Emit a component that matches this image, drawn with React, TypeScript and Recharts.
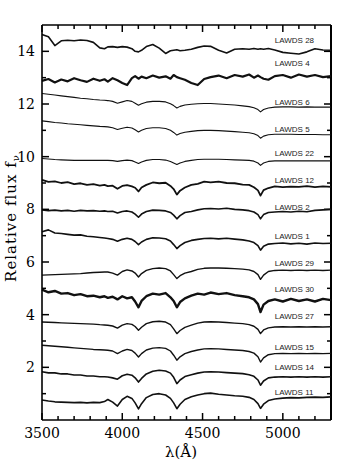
import React from 'react';
import { LineChart, Line, XAxis, YAxis, ReferenceDot, ReferenceLine } from 'recharts';

// wavelength grid (Angstrom), denser around the Balmer lines
const wavelengths = [
  3500, 3540, 3580, 3620, 3660, 3700, 3740, 3780, 3820, 3860,
  3889, 3910, 3940, 3970, 4000, 4030, 4060, 4080, 4101, 4120,
  4150, 4190, 4230, 4270, 4300, 4320, 4340, 4360, 4390, 4430,
  4470, 4510, 4550, 4600, 4650, 4700, 4750, 4790, 4820, 4845,
  4861, 4880, 4910, 4950, 5000, 5050, 5100, 5150, 5200, 5250, 5300,
];

// relative flux + offset (top to bottom)
const lawds28 = [
  14.64, 14.55, 14.22, 14.40, 14.42, 14.40, 14.43, 14.41, 14.34, 14.13,
  14.10, 14.17, 14.18, 14.15, 14.18, 14.16, 14.10, 14.00, 13.98, 14.04,
  14.18, 14.26, 14.12, 13.92, 14.02, 14.04, 14.06, 14.02, 14.04, 14.08,
  14.15, 14.20, 14.19, 14.04, 13.94, 14.08, 14.10, 14.08, 14.11, 14.08,
  14.10, 14.08, 14.11, 14.05, 13.96, 13.93, 13.90, 13.98, 14.10, 14.05, 14.04,
];
const lawds4 = [
  12.88, 12.95, 12.82, 12.93, 12.86, 12.98, 12.90, 12.84, 12.96, 12.88,
  12.94, 12.85, 12.98, 12.90, 12.80, 12.72, 12.98, 13.06, 12.96, 13.04,
  12.98, 13.08, 13.00, 13.05, 12.96, 13.10, 13.02, 12.98, 12.92, 12.80,
  12.72, 12.95, 13.02, 13.08, 12.98, 13.10, 13.04, 13.12, 13.00, 13.08,
  13.02, 12.96, 12.92, 13.06, 13.10, 13.00, 13.12, 13.04, 13.10, 13.02, 13.06,
];
const lawds6 = [
  12.40, 12.37, 12.34, 12.31, 12.28, 12.25, 12.22, 12.20, 12.17, 12.15,
  12.14, 12.13, 12.10, 12.03, 12.08, 12.13, 12.10, 12.03, 11.95, 12.01,
  12.07, 12.10, 12.10, 12.08, 12.01, 11.94, 11.85, 11.91, 11.96, 11.99,
  12.01, 12.02, 12.02, 12.00, 11.98, 11.96, 11.93, 11.90, 11.86, 11.79,
  11.70, 11.79, 11.85, 11.88, 11.89, 11.89, 11.88, 11.89, 11.88, 11.88, 11.88,
];
const lawds5 = [
  11.36, 11.33, 11.30, 11.28, 11.25, 11.23, 11.21, 11.19, 11.17, 11.15,
  11.14, 11.13, 11.10, 11.03, 11.08, 11.12, 11.09, 11.02, 10.94, 11.00,
  11.07, 11.10, 11.10, 11.07, 11.00, 10.92, 10.82, 10.88, 10.93, 10.96,
  10.99, 11.00, 11.00, 10.99, 10.97, 10.95, 10.93, 10.91, 10.87, 10.80,
  10.70, 10.78, 10.83, 10.85, 10.85, 10.85, 10.84, 10.84, 10.84, 10.83, 10.83,
];
const lawds22 = [
  9.93, 9.91, 9.89, 9.88, 9.87, 9.86, 9.86, 9.86, 9.86, 9.86,
  9.86, 9.86, 9.85, 9.82, 9.85, 9.87, 9.85, 9.80, 9.74, 9.80,
  9.86, 9.89, 9.89, 9.87, 9.82, 9.76, 9.70, 9.76, 9.82, 9.86,
  9.89, 9.90, 9.90, 9.90, 9.89, 9.88, 9.87, 9.86, 9.83, 9.76,
  9.67, 9.76, 9.82, 9.84, 9.84, 9.84, 9.84, 9.84, 9.84, 9.84, 9.84,
];
const lawds12 = [
  9.12, 9.04, 9.06, 9.00, 9.03, 8.96, 8.99, 8.93, 8.96, 8.90,
  8.93, 8.88, 8.90, 8.78, 8.89, 8.92, 8.87, 8.82, 8.68, 8.83,
  8.93, 9.02, 8.99, 9.01, 8.89, 8.77, 8.56, 8.71, 8.83, 8.93,
  8.97, 9.05, 9.02, 9.05, 9.00, 8.99, 8.94, 8.93, 8.84, 8.72,
  8.52, 8.73, 8.81, 8.87, 8.84, 8.86, 8.85, 8.88, 8.84, 8.87, 8.85,
];
const lawds2 = [
  7.98, 7.95, 7.97, 7.94, 7.96, 7.93, 7.96, 7.94, 7.95, 7.93,
  7.94, 7.92, 7.93, 7.86, 7.92, 7.94, 7.90, 7.82, 7.70, 7.82,
  7.92, 7.97, 7.96, 7.94, 7.88, 7.78, 7.64, 7.76, 7.88, 7.92,
  7.98, 8.02, 8.03, 8.01, 8.04, 8.00, 7.98, 7.95, 7.90, 7.80,
  7.64, 7.80, 7.88, 7.90, 7.92, 7.90, 7.93, 7.91, 7.96, 7.98, 8.00,
];
const lawds1 = [
  7.15, 7.22, 7.10, 7.08, 7.05, 7.02, 7.03, 6.98, 6.96, 6.93,
  6.91, 6.89, 6.86, 6.79, 6.86, 6.90, 6.86, 6.78, 6.66, 6.76,
  6.86, 6.92, 6.91, 6.88, 6.80, 6.66, 6.51, 6.62, 6.74, 6.82,
  6.86, 6.89, 6.90, 6.88, 6.90, 6.87, 6.84, 6.80, 6.74, 6.62,
  6.45, 6.60, 6.68, 6.70, 6.72, 6.69, 6.71, 6.68, 6.72, 6.70, 6.71,
];
const lawds29 = [
  5.50, 5.51, 5.52, 5.53, 5.54, 5.55, 5.56, 5.58, 5.60, 5.61,
  5.62, 5.62, 5.58, 5.50, 5.64, 5.70, 5.66, 5.58, 5.43, 5.56,
  5.68, 5.75, 5.77, 5.75, 5.66, 5.52, 5.37, 5.48, 5.58, 5.64,
  5.72, 5.76, 5.77, 5.77, 5.76, 5.75, 5.73, 5.70, 5.64, 5.52,
  5.34, 5.50, 5.64, 5.68, 5.69, 5.68, 5.69, 5.68, 5.69, 5.68, 5.69,
];
const lawds30 = [
  4.95, 4.85, 4.90, 4.80, 4.82, 4.74, 4.78, 4.70, 4.72, 4.66,
  4.70, 4.64, 4.68, 4.58, 4.70, 4.62, 4.66, 4.50, 4.28, 4.52,
  4.70, 4.80, 4.76, 4.82, 4.66, 4.52, 4.28, 4.48, 4.62, 4.72,
  4.80, 4.76, 4.84, 4.78, 4.82, 4.74, 4.70, 4.66, 4.58, 4.40,
  4.10, 4.38, 4.52, 4.58, 4.50, 4.60, 4.52, 4.58, 4.50, 4.60, 4.55,
];
const lawds27 = [
  3.72, 3.71, 3.70, 3.69, 3.68, 3.67, 3.66, 3.65, 3.64, 3.62,
  3.61, 3.60, 3.57, 3.49, 3.60, 3.66, 3.63, 3.55, 3.41, 3.52,
  3.66, 3.73, 3.75, 3.72, 3.62, 3.46, 3.28, 3.40, 3.52, 3.60,
  3.68, 3.72, 3.73, 3.72, 3.70, 3.68, 3.66, 3.62, 3.56, 3.44,
  3.28, 3.42, 3.50, 3.53, 3.54, 3.53, 3.54, 3.53, 3.54, 3.53, 3.54,
];
const lawds15 = [
  2.84, 2.82, 2.80, 2.78, 2.76, 2.74, 2.72, 2.70, 2.68, 2.67,
  2.66, 2.65, 2.62, 2.52, 2.62, 2.68, 2.64, 2.54, 2.39, 2.52,
  2.66, 2.73, 2.75, 2.72, 2.62, 2.46, 2.27, 2.40, 2.52, 2.60,
  2.66, 2.70, 2.71, 2.70, 2.68, 2.66, 2.64, 2.60, 2.54, 2.40,
  2.20, 2.36, 2.48, 2.52, 2.53, 2.52, 2.53, 2.52, 2.53, 2.52, 2.53,
];
const lawds14 = [
  1.83, 1.79, 1.79, 1.75, 1.75, 1.71, 1.71, 1.67, 1.67, 1.64,
  1.64, 1.63, 1.60, 1.55, 1.68, 1.74, 1.70, 1.60, 1.44, 1.58,
  1.75, 1.85, 1.89, 1.86, 1.78, 1.62, 1.38, 1.52, 1.65, 1.72,
  1.78, 1.82, 1.83, 1.82, 1.80, 1.78, 1.76, 1.72, 1.66, 1.52,
  1.32, 1.48, 1.60, 1.63, 1.64, 1.63, 1.64, 1.63, 1.64, 1.63, 1.64,
];
const lawds11 = [
  0.76, 0.72, 0.69, 0.68, 0.67, 0.66, 0.67, 0.65, 0.67, 0.66,
  0.70, 0.78, 0.68, 0.53, 0.78, 0.90, 0.82, 0.65, 0.42, 0.62,
  0.85, 0.97, 1.00, 0.95, 0.82, 0.65, 0.43, 0.60, 0.78, 0.88,
  0.95, 1.00, 1.02, 0.98, 0.95, 0.92, 0.90, 0.86, 0.78, 0.62,
  0.44, 0.60, 0.74, 0.80, 0.83, 0.85, 0.84, 0.86, 0.87, 0.86, 0.88,
];

const names = [
  'LAWDS 28', 'LAWDS 4', 'LAWDS 6', 'LAWDS 5', 'LAWDS 22', 'LAWDS 12', 'LAWDS 2',
  'LAWDS 1', 'LAWDS 29', 'LAWDS 30', 'LAWDS 27', 'LAWDS 15', 'LAWDS 14', 'LAWDS 11',
];
const fluxes = [
  lawds28, lawds4, lawds6, lawds5, lawds22, lawds12, lawds2,
  lawds1, lawds29, lawds30, lawds27, lawds15, lawds14, lawds11,
];
// where each name label sits (data units)
const labelWavelength = 4950;
const labelFlux = [14.42, 13.55, 12.07, 11.05, 10.13, 9.11, 8.08, 6.98, 5.95, 4.97, 3.94, 2.76, 2.0, 1.05];

const xMin = 3500;
const xMax = 5300;
const yMin = 0;
const yMax = 15;
const xTicks = [
  3500, 3600, 3700, 3800, 3900, 4000, 4100, 4200, 4300, 4400,
  4500, 4600, 4700, 4800, 4900, 5000, 5100, 5200, 5300,
];
const yTicks = [1, 2, 3, 4, 5, 6, 7, 8, 9, 10, 11, 12, 13, 14];

// thicker strokes for the noisier spectra
const strokeWidths = [1.6, 2.2, 1.1, 1.1, 1.1, 1.8, 1.6, 1.6, 1.4, 2.4, 1.4, 1.4, 1.6, 1.6];

// inward tick lengths in data units (7 px major, 4 px minor)
const pxPerAngstrom = 289 / (xMax - xMin);
const pxPerFlux = 395 / (yMax - yMin);
const xTickLen = (major: boolean) => (major ? 7 : 4) / pxPerFlux;
const yTickLen = (major: boolean) => (major ? 7 : 4) / pxPerAngstrom;

const data = wavelengths.map((wl, i) => {
  const row: any = { wl };
  fluxes.forEach((f, j) => { row[`s${j}`] = f[i]; });
  return row;
});

const SERIF = 'DejaVu Serif, serif';
const SANS = 'Liberation Sans, Arial, sans-serif';
const INK = '#000';

const BottomTick = (props: any) => {
  const { x, y, payload } = props;
  const major = payload.value % 500 === 0;
  return (
    <g>
      <line x1={x} x2={x} y1={y} y2={y - (major ? 7 : 4)} stroke={INK} strokeWidth={1.5} />
      {major && (
        <text x={x} y={y + 13} textAnchor="middle" dominantBaseline="central" fontFamily={SERIF} fontSize={14} fill={INK}>
          {payload.value}
        </text>
      )}
    </g>
  );
};

const LeftTick = (props: any) => {
  const { x, y, payload } = props;
  const major = payload.value % 2 === 0;
  return (
    <g>
      <line x1={x} x2={x + (major ? 7 : 4)} y1={y} y2={y} stroke={INK} strokeWidth={1.5} />
      {major && (
        <text x={x - 7} y={y} textAnchor="end" dominantBaseline="central" fontFamily={SERIF} fontSize={14} fill={INK}>
          {payload.value}
        </text>
      )}
    </g>
  );
};

const App: React.FC = () => {
  return (
    <div style={{ position: 'absolute', left: 0, top: 0, width: 350, height: 467, background: '#fff' }}>
      <LineChart width={350} height={467} data={data} margin={{ top: 25, right: 19, bottom: 0, left: 0 }}>
        <XAxis
          dataKey="wl"
          type="number"
          domain={[xMin, xMax]}
          ticks={xTicks}
          interval={0}
          height={47}
          tickSize={0}
          tickMargin={0}
          tickLine={false}
          tick={BottomTick}
          axisLine={{ stroke: INK, strokeWidth: 1.6 }}
          label={{
            content: () => (
              <text x={181} y={452} textAnchor="middle" dominantBaseline="central" fontFamily={SERIF} fontSize={15} fill={INK}>
                λ(Å)
              </text>
            ),
          }}
        />
        <YAxis
          type="number"
          domain={[yMin, yMax]}
          ticks={yTicks}
          interval={0}
          width={42}
          tickSize={0}
          tickMargin={0}
          tickLine={false}
          tick={LeftTick}
          axisLine={{ stroke: INK, strokeWidth: 1.6 }}
          label={{
            content: () => (
              <text
                transform="translate(11,218) rotate(-90)"
                textAnchor="middle"
                dominantBaseline="central"
                fontFamily={SERIF}
                fontSize={15}
                letterSpacing={1}
                fill={INK}
              >
                Relative flux f<tspan fontSize={10} dy={4}>ν</tspan>
              </text>
            ),
          }}
        />

        {/* top and right frame */}
        <ReferenceLine y={yMax} stroke={INK} strokeWidth={1.6} ifOverflow="visible" />
        <ReferenceLine x={xMax} stroke={INK} strokeWidth={2} ifOverflow="visible" />

        {/* inward ticks on the top and right sides */}
        {xTicks.map((t) => (
          <ReferenceLine
            key={`xt-${t}`}
            segment={[{ x: t, y: yMax }, { x: t, y: yMax - xTickLen(t % 500 === 0) }]}
            stroke={INK}
            strokeWidth={1.5}
            ifOverflow="visible"
          />
        ))}
        {yTicks.map((t) => (
          <ReferenceLine
            key={`yr-${t}`}
            segment={[{ x: xMax, y: t }, { x: xMax - yTickLen(t % 2 === 0), y: t }]}
            stroke={INK}
            strokeWidth={1.5}
            ifOverflow="visible"
          />
        ))}

        {fluxes.map((_, j) => (
          <Line
            key={names[j]}
            dataKey={`s${j}`}
            type="linear"
            stroke="#111"
            strokeWidth={strokeWidths[j]}
            strokeLinejoin="round"
            dot={false}
            activeDot={false}
            isAnimationActive={false}
          />
        ))}
        {names.map((name, j) => (
          <ReferenceDot
            key={`lbl-${name}`}
            x={labelWavelength}
            y={labelFlux[j]}
            r={0}
            fill="none"
            stroke="none"
            label={(p: any) => (
              <text
                x={p.viewBox.x}
                y={p.viewBox.y}
                dominantBaseline="central"
                fontFamily={SANS}
                fontSize={8}
                fill="#222"
              >
                {name}
              </text>
            )}
          />
        ))}
      </LineChart>
    </div>
  );
};

export default App;
